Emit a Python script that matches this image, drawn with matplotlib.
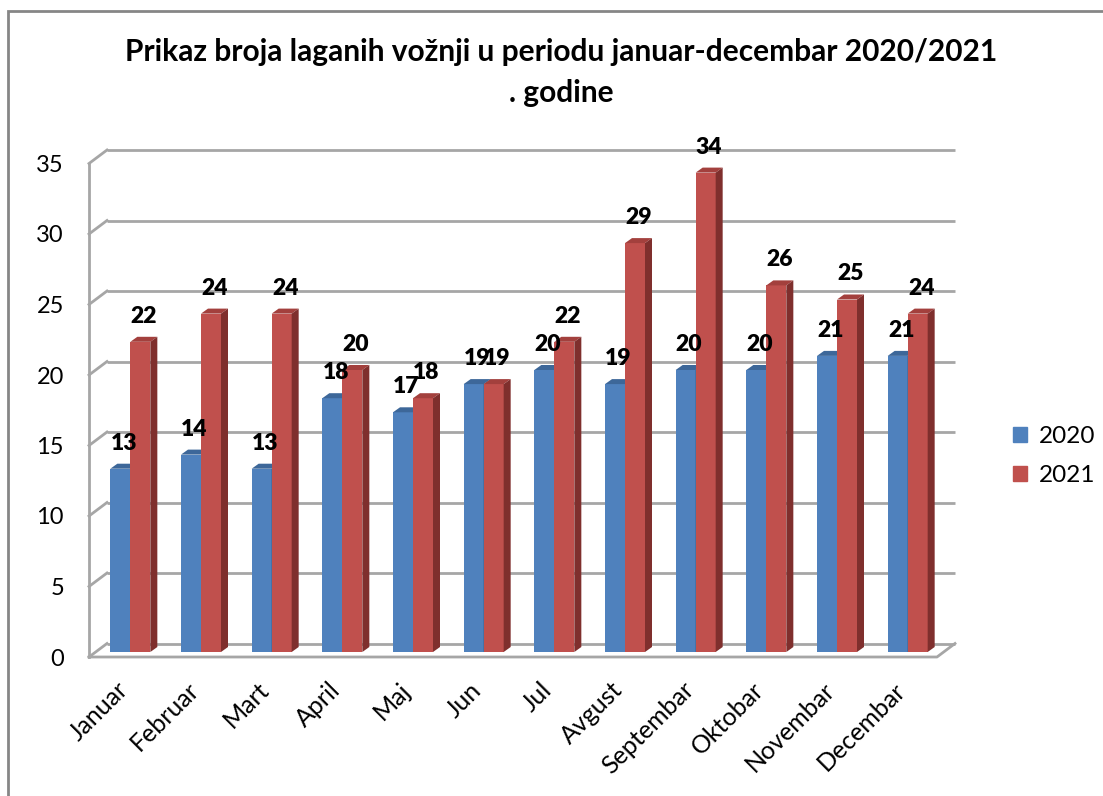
import matplotlib
matplotlib.use("Agg")
import matplotlib.pyplot as plt
from matplotlib.patches import Polygon, Patch, Rectangle

plt.rcParams['font.family'] = ['Lato', 'DejaVu Sans']

months = ['Januar', 'Februar', 'Mart', 'April', 'Maj', 'Jun', 'Jul',
          'Avgust', 'Septembar', 'Oktobar', 'Novembar', 'Decembar']
v2020 = [13, 14, 13, 18, 17, 19, 20, 19, 20, 20, 21, 21]
v2021 = [22, 24, 24, 20, 18, 19, 22, 29, 34, 26, 25, 24]
yticks = [0, 5, 10, 15, 20, 25, 30, 35]
series = ['2020', '2021']

# front face, top face, side face
blue = ('#4F81BD', '#3D6799', '#2F5580')
red = ('#C0504D', '#A3403D', '#7F2F2D')
grid_c = '#A6A6A6'

fig = plt.figure(figsize=(11.03, 7.96), dpi=100)
ax = fig.add_axes([89 / 1103, 1 - 657 / 796, 848 / 1103, 493.5 / 796])
ax.set_xlim(-0.5, 11.5)
ax.set_ylim(0, 35)
for s in ax.spines.values():
    s.set_visible(False)

# pixel -> data conversion for the fake 3D offsets
bb = ax.get_window_extent()
ppx = bb.width / 12
ppy = bb.height / 35


def off(px, py):
    return px / ppx, py / ppy


wdx, wdy = off(18, 13.5)   # back wall
bx0, by0 = off(6, 5)       # bar front plane
ddx, ddy = off(7, 5)       # bar depth
bw = 20 / ppx              # bar width

# walls and floor
for v in yticks:
    ax.plot([-0.5 + wdx, 11.5 + wdx], [v + wdy, v + wdy], color=grid_c, lw=2,
            solid_capstyle='butt', zorder=1, clip_on=False)
    ax.plot([-0.5, -0.5 + wdx], [v, v + wdy], color=grid_c, lw=2, zorder=1, clip_on=False)
ax.plot([-0.5, -0.5], [0, 35], color=grid_c, lw=2, zorder=1, clip_on=False)
ax.plot([-0.5, 11.5, 11.5 + wdx], [0, 0, wdy], color=grid_c, lw=2, zorder=1, clip_on=False)


def draw_bars(lefts, vals, cols):
    ax.bar(lefts, vals, width=bw, bottom=by0, align='edge', color=cols[0],
           lw=0, zorder=3, clip_on=False)
    for L, v in zip(lefts, vals):
        R = L + bw
        top = v + by0
        ax.add_patch(Polygon([(L, top), (R, top), (R + ddx, top + ddy), (L + ddx, top + ddy)],
                             closed=True, fc=cols[1], lw=0, zorder=3, clip_on=False))
        ax.add_patch(Polygon([(R, by0), (R, top), (R + ddx, top + ddy), (R + ddx, by0 + ddy)],
                             closed=True, fc=cols[2], lw=0, zorder=3, clip_on=False))
        ax.annotate(str(v), xy=(L + bw / 2 + ddx / 2, top), xytext=(0, 19),
                    textcoords='offset pixels', ha='center', va='baseline',
                    fontsize=16.5, fontweight='heavy', zorder=5, annotation_clip=False)


x = list(range(len(months)))
draw_bars([i - bw + bx0 for i in x], v2020, blue)
draw_bars([i + bx0 for i in x], v2021, red)

ax.set_yticks(yticks)
ax.set_yticklabels([str(t) for t in yticks], fontsize=17)
ax.set_xticks(x)
ax.set_xticklabels(months, rotation=45, ha='right', va='center',
                   rotation_mode='anchor', fontsize=18)
ax.tick_params(axis='y', length=0, pad=18)
ax.tick_params(axis='x', length=0, pad=21)

fig.text(561 / 1103, 1 - 52 / 796,
         'Prikaz broja laganih vožnji u periodu januar-decembar 2020/2021',
         ha='center', va='center', fontsize=21.5, fontweight='bold')
fig.text(561 / 1103, 1 - 93 / 796, '. godine',
         ha='center', va='center', fontsize=21.5, fontweight='bold')

handles = [Patch(color=blue[0]), Patch(color=red[0])]
fig.legend(handles, series, loc='center left', bbox_to_anchor=(991 / 1103, 1 - 456 / 796),
           frameon=False, fontsize=17.5, handlelength=0.6, handleheight=0.6,
           handletextpad=0.45, labelspacing=0.75)

fig.add_artist(Rectangle((8 / 1103, -0.05), 1.2, 1 - 11 / 796 + 0.05,
                         transform=fig.transFigure, fill=False,
                         ec='#868686', lw=2))

fig.savefig('out.png', dpi=100)
